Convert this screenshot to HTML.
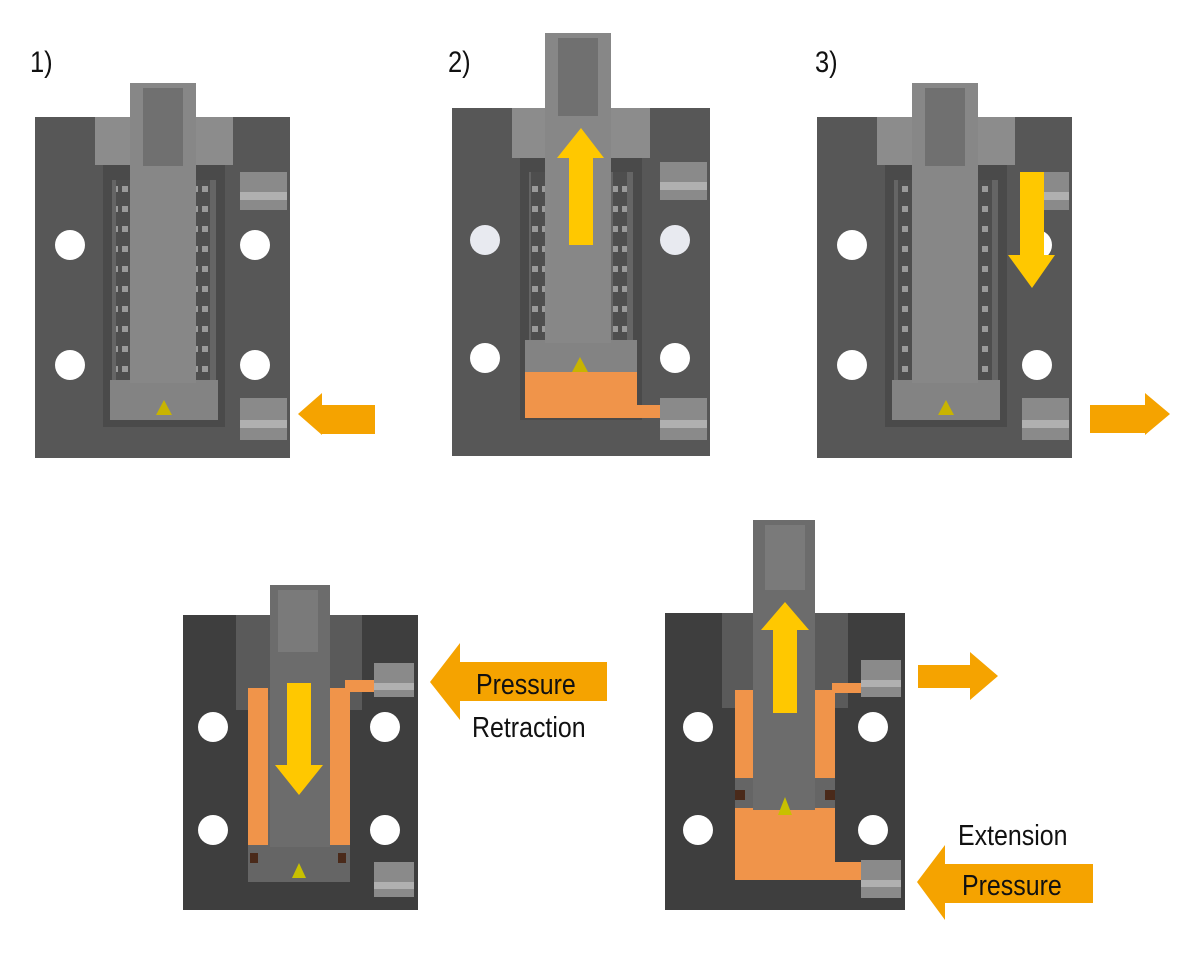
<!DOCTYPE html>
<html><head><meta charset="utf-8"><style>
html,body{margin:0;padding:0;background:#fff;}
svg{display:block;}
text{font-family:"Liberation Sans",sans-serif;}
</style></head><body>
<svg width="1200" height="954" viewBox="0 0 1200 954" xmlns="http://www.w3.org/2000/svg">
<defs>
<pattern id="spr" x="0" y="0" width="10" height="20" patternUnits="userSpaceOnUse">
<rect x="0" y="0" width="10" height="20" fill="#4e4e4e"/>
<rect x="2" y="6" width="6" height="6" fill="#9a9a9a"/>
</pattern>
</defs>
<text x="30" y="72" font-size="30" transform="translate(30 0) scale(0.85 1) translate(-30 0)" fill="#111">1)</text>
<text x="448" y="72" font-size="30" transform="translate(448 0) scale(0.85 1) translate(-448 0)" fill="#111">2)</text>
<text x="815" y="72" font-size="30" transform="translate(815 0) scale(0.85 1) translate(-815 0)" fill="#111">3)</text>

<!-- Panel 1 -->
<g>
<rect x="35" y="117" width="255" height="341" fill="#575757"/>
<rect x="95" y="117" width="138" height="48" fill="#8c8c8c"/>
<rect x="103" y="165" width="122" height="262" fill="#4a4a4a"/>
<rect x="112" y="180" width="104" height="232" fill="#656565"/>
<rect x="116" y="180" width="14" height="200" fill="url(#spr)"/>
<rect x="196" y="180" width="14" height="200" fill="url(#spr)"/>
<rect x="110" y="380" width="108" height="40" fill="#838383"/>
<rect x="130" y="83" width="66" height="300" fill="#878787"/>
<rect x="143" y="88" width="40" height="78" fill="#707070"/>
<circle cx="70" cy="245" r="15" fill="#fff"/><circle cx="70" cy="365" r="15" fill="#fff"/>
<circle cx="255" cy="245" r="15" fill="#fff"/><circle cx="255" cy="365" r="15" fill="#fff"/>
<rect x="240" y="172" width="47" height="38" fill="#8a8a8a"/><rect x="240" y="192" width="47" height="8" fill="#b0b0b0"/>
<rect x="240" y="398" width="47" height="42" fill="#8a8a8a"/><rect x="240" y="420" width="47" height="8" fill="#b0b0b0"/>
<polygon points="156,415 164,400 172,415" fill="#c8b400"/>
<polygon points="298,414 322,393 322,405 375,405 375,434 322,434 322,435" fill="#f5a300"/>
</g>

<!-- Panel 2 -->
<g>
<rect x="452" y="108" width="258" height="348" fill="#575757"/>
<rect x="512" y="108" width="138" height="50" fill="#8c8c8c"/>
<rect x="520" y="158" width="122" height="262" fill="#4a4a4a"/>
<rect x="529" y="172" width="104" height="200" fill="#656565"/>
<rect x="531" y="172" width="14" height="170" fill="url(#spr)"/>
<rect x="613" y="172" width="14" height="170" fill="url(#spr)"/>
<rect x="525" y="340" width="112" height="34" fill="#838383"/>
<rect x="525" y="372" width="112" height="46" fill="#f0944a"/>
<rect x="600" y="405" width="60" height="13" fill="#f0944a"/>
<rect x="545" y="33" width="66" height="310" fill="#878787"/>
<rect x="558" y="38" width="40" height="78" fill="#707070"/>
<circle cx="485" cy="240" r="15" fill="#e8eaf0"/><circle cx="485" cy="358" r="15" fill="#fff"/>
<circle cx="675" cy="240" r="15" fill="#e8eaf0"/><circle cx="675" cy="358" r="15" fill="#fff"/>
<rect x="660" y="162" width="47" height="38" fill="#8a8a8a"/><rect x="660" y="182" width="47" height="8" fill="#b0b0b0"/>
<rect x="660" y="398" width="47" height="42" fill="#8a8a8a"/><rect x="660" y="420" width="47" height="8" fill="#b0b0b0"/>
<polygon points="572,372 580,357 588,372" fill="#c8b400"/>
<polygon points="581,128 604,158 593,158 593,245 569,245 569,158 557,158" fill="#ffc800"/>
</g>

<!-- Panel 3 -->
<g>
<rect x="817" y="117" width="255" height="341" fill="#575757"/>
<rect x="877" y="117" width="138" height="48" fill="#8c8c8c"/>
<rect x="885" y="165" width="122" height="262" fill="#4a4a4a"/>
<rect x="894" y="180" width="104" height="232" fill="#656565"/>
<rect x="898" y="180" width="14" height="200" fill="url(#spr)"/>
<rect x="978" y="180" width="14" height="200" fill="url(#spr)"/>
<rect x="892" y="380" width="108" height="40" fill="#838383"/>
<rect x="912" y="83" width="66" height="300" fill="#878787"/>
<rect x="925" y="88" width="40" height="78" fill="#707070"/>
<circle cx="852" cy="245" r="15" fill="#fff"/><circle cx="852" cy="365" r="15" fill="#fff"/>
<circle cx="1037" cy="245" r="15" fill="#fff"/><circle cx="1037" cy="365" r="15" fill="#fff"/>
<rect x="1022" y="172" width="47" height="38" fill="#8a8a8a"/><rect x="1022" y="192" width="47" height="8" fill="#b0b0b0"/>
<rect x="1022" y="398" width="47" height="42" fill="#8a8a8a"/><rect x="1022" y="420" width="47" height="8" fill="#b0b0b0"/>
<polygon points="938,415 946,400 954,415" fill="#c8b400"/>
<polygon points="1020,172 1044,172 1044,255 1055,255 1032,288 1008,255 1020,255" fill="#ffc800"/>
<polygon points="1090,405 1145,405 1145,393 1170,414 1145,435 1145,433 1090,433" fill="#f5a300"/>
</g>

<!-- Panel 4 -->
<g>
<rect x="183" y="615" width="235" height="295" fill="#3e3e3e"/>
<rect x="236" y="615" width="126" height="95" fill="#5a5a5a"/>
<rect x="248" y="700" width="102" height="182" fill="#656565"/>
<rect x="248" y="688" width="20" height="157" fill="#f0944a"/>
<rect x="330" y="688" width="20" height="157" fill="#f0944a"/>
<rect x="345" y="680" width="30" height="12" fill="#f0944a"/>
<rect x="270" y="585" width="60" height="262" fill="#6c6c6c"/>
<rect x="278" y="590" width="40" height="62" fill="#7a7a7a"/>
<circle cx="213" cy="727" r="15" fill="#fff"/><circle cx="213" cy="830" r="15" fill="#fff"/>
<circle cx="385" cy="727" r="15" fill="#fff"/><circle cx="385" cy="830" r="15" fill="#fff"/>
<rect x="374" y="663" width="40" height="34" fill="#8a8a8a"/><rect x="374" y="683" width="40" height="7" fill="#b0b0b0"/>
<rect x="374" y="862" width="40" height="35" fill="#8a8a8a"/><rect x="374" y="882" width="40" height="7" fill="#b0b0b0"/>
<rect x="250" y="853" width="8" height="10" fill="#4a2a1a"/><rect x="338" y="853" width="8" height="10" fill="#4a2a1a"/>
<polygon points="292,878 299,863 306,878" fill="#c8c000"/>
<polygon points="287,683 311,683 311,765 323,765 299,795 275,765 287,765" fill="#ffc800"/>
<polygon points="430,682 460,643 460,662 607,662 607,701 460,701 460,720" fill="#f5a300"/>
<text x="476" y="694" font-size="29" fill="#111" transform="translate(476 0) scale(0.86 1) translate(-476 0)">Pressure</text>
<text x="472" y="737" font-size="29" fill="#111" transform="translate(472 0) scale(0.86 1) translate(-472 0)">Retraction</text>
</g>

<!-- Panel 5 -->
<g>
<rect x="665" y="613" width="240" height="297" fill="#3e3e3e"/>
<rect x="722" y="613" width="126" height="95" fill="#5a5a5a"/>
<rect x="735" y="690" width="100" height="190" fill="#656565"/>
<rect x="735" y="690" width="20" height="88" fill="#f0944a"/>
<rect x="815" y="690" width="20" height="88" fill="#f0944a"/>
<rect x="832" y="683" width="30" height="10" fill="#f0944a"/>
<rect x="735" y="808" width="100" height="72" fill="#f0944a"/>
<rect x="830" y="862" width="32" height="18" fill="#f0944a"/>
<rect x="753" y="520" width="62" height="290" fill="#6c6c6c"/>
<rect x="765" y="525" width="40" height="65" fill="#7a7a7a"/>
<rect x="735" y="790" width="10" height="10" fill="#4a2a1a"/><rect x="825" y="790" width="10" height="10" fill="#4a2a1a"/>
<polygon points="778,815 785,797 792,815" fill="#c8c000"/>
<circle cx="698" cy="727" r="15" fill="#fff"/><circle cx="698" cy="830" r="15" fill="#fff"/>
<circle cx="873" cy="727" r="15" fill="#fff"/><circle cx="873" cy="830" r="15" fill="#fff"/>
<rect x="861" y="660" width="40" height="37" fill="#8a8a8a"/><rect x="861" y="680" width="40" height="7" fill="#b0b0b0"/>
<rect x="861" y="860" width="40" height="38" fill="#8a8a8a"/><rect x="861" y="880" width="40" height="7" fill="#b0b0b0"/>
<polygon points="785,602 809,630 797,630 797,713 773,713 773,630 761,630" fill="#ffc800"/>
<polygon points="918,665 970,665 970,652 998,676 970,700 970,688 918,688" fill="#f5a300"/>
<text x="958" y="845" font-size="29" fill="#111" transform="translate(958 0) scale(0.86 1) translate(-958 0)">Extension</text>
<polygon points="917,882 945,845 945,864 1093,864 1093,903 945,903 945,920" fill="#f5a300"/>
<text x="962" y="895" font-size="29" fill="#111" transform="translate(962 0) scale(0.86 1) translate(-962 0)">Pressure</text>
</g>
</svg>
</body></html>
